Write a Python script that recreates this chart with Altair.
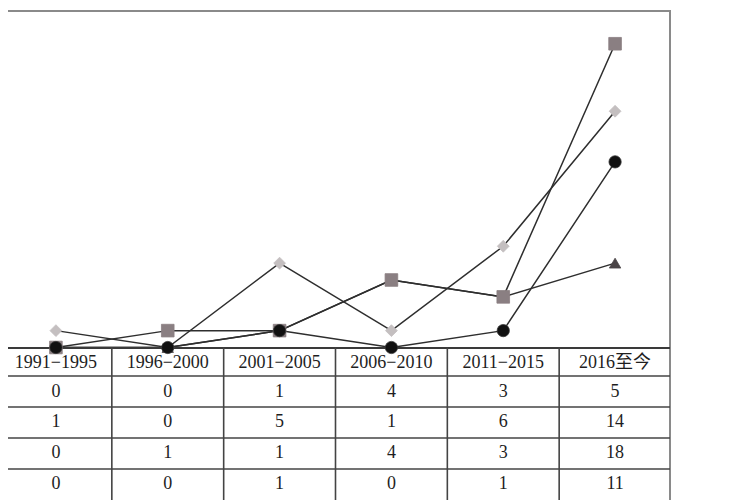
import altair as alt
import pandas as pd

periods = ["1991−1995", "1996−2000", "2001−2005", "2006−2010", "2011−2015", "2016至今"]
series_a = [0, 0, 1, 4, 3, 5]     # triangle
series_b = [1, 0, 5, 1, 6, 14]    # diamond
series_c = [0, 1, 1, 4, 3, 18]    # square
series_d = [0, 0, 1, 0, 1, 11]    # circle

series_names = ["A", "B", "C", "D"]
series_vals = [series_a, series_b, series_c, series_d]
shapes = ["triangle-up", "diamond", "square", "circle"]
fills = ["#4a4446", "#c4bfc0", "#8a7f82", "#111111"]
sizes = [130, 140, 160, 150]

W = 671
H = 490
PLOT_H = 337.5
FONT = "Liberation Serif, Times New Roman, Noto Sans CJK SC"

rows = []
for name, vals in zip(series_names, series_vals):
    for p, v in zip(periods, vals):
        rows.append({"series": name, "period": p, "value": v})
df = pd.DataFrame(rows)

xscale = alt.Scale(domain=periods, paddingInner=0, paddingOuter=0, range=[0, W])
yscale = alt.Scale(domain=[0, 20], range=[PLOT_H, 0], nice=False, zero=False)

X = alt.X("period:N", scale=xscale, axis=None)

layers = []

# top border
layers.append(
    alt.Chart(pd.DataFrame({"v": [0]})).mark_rule(color="#8a8a8a", strokeWidth=2).encode(
        x=alt.value(0), x2=alt.value(W - 1), y=alt.value(1)
    )
)
# right border
layers.append(
    alt.Chart(pd.DataFrame({"v": [0]})).mark_rule(color="#8a8a8a", strokeWidth=2).encode(
        x=alt.value(W - 1), y=alt.value(0), y2=alt.value(H)
    )
)

# lines
for name in series_names:
    sub = df[df.series == name]
    layers.append(
        alt.Chart(sub).mark_line(color="#2e2e2e", strokeWidth=1.5).encode(
            x=alt.X("period:N", scale=xscale, axis=None, sort=periods),
            y=alt.Y("value:Q", scale=yscale, axis=None),
        )
    )

# x axis line (table top)
layers.append(
    alt.Chart(pd.DataFrame({"v": [0]})).mark_rule(color="#3a3a3a", strokeWidth=1.8).encode(
        x=alt.value(0), x2=alt.value(W - 1), y=alt.value(PLOT_H + 0.5)
    )
)

# markers
for name, shp, fc, sz in zip(series_names, shapes, fills, sizes):
    sub = df[df.series == name]
    layers.append(
        alt.Chart(sub).mark_point(shape=shp, filled=True, fill=fc, color=fc, size=sz, opacity=1,
                                  stroke="#333" if name == "D" else fc, strokeWidth=0.8).encode(
            x=alt.X("period:N", scale=xscale, axis=None),
            y=alt.Y("value:Q", scale=yscale, axis=None),
        )
    )

# table
row_lines = [366, 397, 428, 459]
for ry in row_lines:
    layers.append(
        alt.Chart(pd.DataFrame({"v": [0]})).mark_rule(color="#444", strokeWidth=1.6).encode(
            x=alt.value(0), x2=alt.value(W - 1), y=alt.value(ry)
        )
    )
layers.append(
    alt.Chart(pd.DataFrame({"period": periods[1:]})).mark_rule(color="#444", strokeWidth=1.6).encode(
        x=alt.X("period:N", scale=xscale, axis=None, bandPosition=0),
        y=alt.value(PLOT_H), y2=alt.value(H),
    )
)
layers.append(
    alt.Chart(pd.DataFrame({"period": periods})).mark_text(font=FONT, fontSize=18, color="#1e1e1e", baseline="middle").encode(
        x=X, y=alt.value(353), text="period:N"
    )
)
row_text_y = [382, 412, 443, 474]
for name, vals, ty in zip(series_names, series_vals, row_text_y):
    tdf = pd.DataFrame({"period": periods, "value": vals})
    layers.append(
        alt.Chart(tdf).mark_text(font=FONT, fontSize=18, color="#1e1e1e", baseline="middle").encode(
            x=X, y=alt.value(ty), text="value:Q"
        )
    )

chart = alt.layer(*layers).properties(
    width=W, height=H,
    autosize=alt.AutoSizeParams(type="none"),
    padding={"left": -8, "top": 2, "right": 0, "bottom": 0},
).configure_view(stroke=None).configure(background="white")

chart.save("out.html", embed_options={"renderer": "svg", "actions": False})
